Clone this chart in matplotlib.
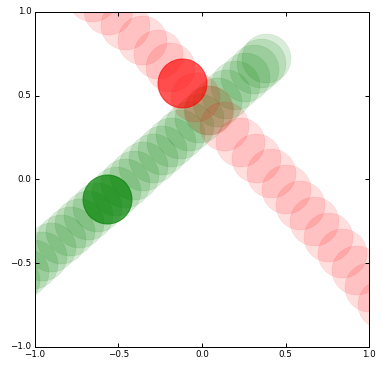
import matplotlib
matplotlib.use("Agg")
import matplotlib.pyplot as plt

# Red trail (top-left to bottom-right)
red_x = [-0.657, -0.562, -0.460, -0.359, -0.263, -0.191, -0.042, 0.042, 0.131, 0.227,
         0.322, 0.412, 0.502, 0.586, 0.670, 0.753, 0.837, 0.921, 0.999, 1.077, 1.155]
red_y = [1.09, 1.012, 0.922, 0.833, 0.749, 0.672, 0.493, 0.415, 0.319, 0.224,
         0.128, 0.039, -0.057, -0.152, -0.248, -0.343, -0.439, -0.540, -0.642, -0.743, -0.845]
# Green trail (bottom-left to top-right)
green_x = [-1.12, -1.065, -1.01, -0.955, -0.90, -0.845, -0.79, -0.735, -0.68, -0.625,
           -0.515, -0.46, -0.405, -0.35, -0.295, -0.24, -0.185, -0.13, -0.075, -0.02,
           0.035, 0.09, 0.145, 0.20, 0.255, 0.31, 0.35, 0.383]
green_y = [-0.600, -0.552, -0.503, -0.455, -0.406, -0.358, -0.310, -0.261, -0.213, -0.164,
           -0.068, -0.019, 0.029, 0.078, 0.126, 0.174, 0.223, 0.271, 0.320, 0.368,
           0.416, 0.465, 0.513, 0.562, 0.610, 0.658, 0.694, 0.723]
# Current positions
red_now = (-0.12, 0.578)
green_now = (-0.57, -0.116)

ticks = [-1.0, -0.5, 0.0, 0.5, 1.0]
tick_labels = ["\u22121.0", "\u22120.5", "0.0", "0.5", "1.0"]

plt.style.use("classic")
plt.rcParams["font.family"] = ["DejaVu Sans"]

DPI = 72
fig = plt.figure(figsize=(382 / DPI, 368 / DPI), dpi=DPI, facecolor="white")
ax = fig.add_axes([0.0908, 0.0571, 0.8760, 0.9103])
ax.set_facecolor("white")

ms = 49
ax.plot(green_x, green_y, "o", color="g", mec="g", mew=0.5, ms=ms, alpha=0.15, ls="none")
ax.plot(red_x, red_y, "o", color="r", mec="r", mew=0.5, ms=ms, alpha=0.13, ls="none")
ax.plot([green_now[0]], [green_now[1]], "o", color="g", mec="g", mew=1, ms=ms, alpha=0.7, ls="none")
ax.plot([red_now[0]], [red_now[1]], "o", color="r", mec="r", mew=1, ms=ms, alpha=0.65, ls="none")

ax.set_xlim(-1, 1)
ax.set_ylim(-1, 1)
ax.set_xticks(ticks)
ax.set_yticks(ticks)
ax.set_xticklabels(tick_labels)
ax.set_yticklabels(tick_labels)
ax.tick_params(axis="both", which="major", direction="in", length=4, width=1,
               labelsize=8.8, top=True, right=True, pad=3)
for s in ax.spines.values():
    s.set_linewidth(1)

fig.savefig("out.png", dpi=DPI, facecolor="white")
